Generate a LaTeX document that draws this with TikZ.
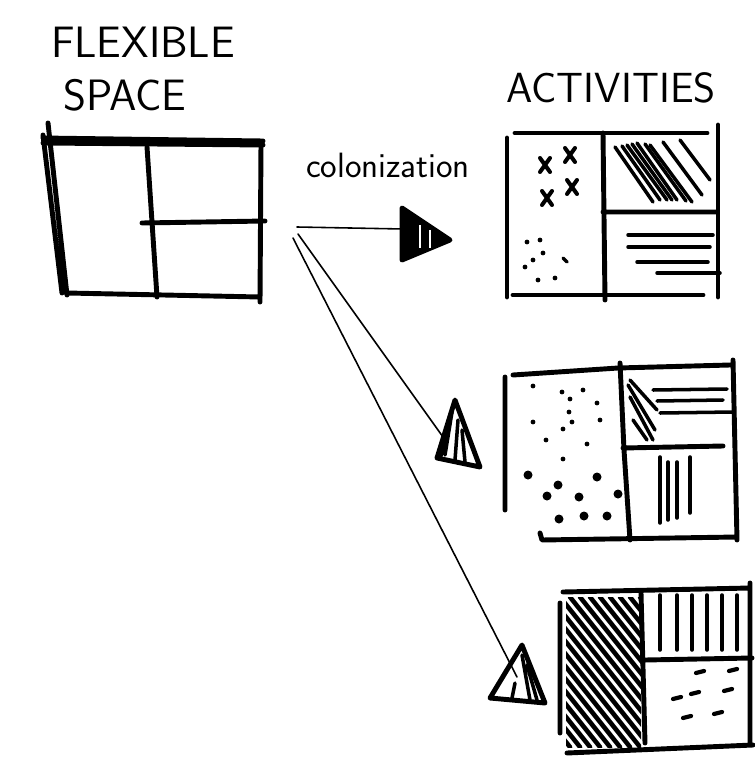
\documentclass[tikz,border=0pt]{standalone}
\begin{document}
\begin{tikzpicture}[x=0.02cm, y=-0.02cm, pen/.style={line width=2.8pt, line cap=round, line join=round}, hatch/.style={line width=2pt, line cap=round}, thinline/.style={line width=0.9pt, line cap=round}, word/.style={font=\sffamily, inner sep=0pt}]
    \useasboundingbox (0,0) rectangle (754,757);
    % titles
    \node[word, font=\sffamily\fontsize{25}{27}\selectfont] (flex) at (143,42) {FLEXIBLE};
    \node[word, font=\sffamily\fontsize{25}{27}\selectfont] (space) at (125,95) {SPACE};
    \node[word, font=\sffamily\fontsize{24}{26}\selectfont] (act) at (611,88) {ACTIVITIES};
    \node[word, font=\sffamily\fontsize{20}{22}\selectfont] (colon) at (388,165) {colonization};
    % flexible space
    \draw[pen] (43,138) -- (263,141) (43,143) -- (263,145);
    \draw[pen] (43,135) -- (62,293) (48,123) -- (67,295);
    \draw[pen] (261,143) -- (260,302) (67,293) -- (260,297);
    \draw[pen] (147,147) -- (157,297) (142,223) -- (265,221);
    % connectors
    \coordinate (s1) at (297,227);
    \coordinate (s2) at (298,234);
    \coordinate (s3) at (293,238);
    \coordinate (h1) at (403,229);
    \coordinate (h2) at (443,437);
    \coordinate (h3) at (517,677);
    \draw[thinline] (s1) -- (h1);
    \draw[thinline] (s2) -- (h2);
    \draw[thinline] (s3) -- (h3);
    % arrow heads
    \filldraw[pen] (402,208) -- (450,240) -- (402,260) -- cycle;
    \draw[white, line width=1pt] (420,225) -- (420,248) (430,230) -- (430,248);
    \draw[pen] (455,400) -- (480,467) -- (437,458) -- cycle;
    \draw[hatch] (452,412) -- (445,455) (458,420) -- (455,460) (462,430) -- (465,462) (448,430) -- (441,456);
    \draw[pen] (522,645) -- (545,703) -- (490,698) -- cycle;
    \draw[hatch] (522,655) -- (530,700) (527,665) -- (537,700) (515,683) -- (512,698);
    % activities 1
    \draw[pen] (515,133) -- (707,133) (507,138) -- (507,297) (718,125) -- (718,297) (513,295) -- (703,295);
    \draw[pen] (603,133) -- (605,300) (603,212) -- (717,212);
    \foreach \x/\y in {545/165,570/155,572/187,547/198}
        \draw[hatch, line width=2.3pt] (\x-5,\y-7) -- (\x+5,\y+7) (\x+5,\y-7) -- (\x-5,\y+7);
    \foreach \x/\y in {527/242,540/240,543/253,533/260,525/267,538/280,555/278}
        \fill (\x,\y) circle (2.4);
    \draw[hatch] (563,258) -- (567,262);
    \foreach \a/\b/\c/\d in {615/147/653/202,622/146/660/200,627/145/667/200,632/144/672/200,637/143/677/200,645/144/686/201,650/145/692/202,663/142/702/195,680/140/710/180}
        \draw[hatch] (\a,\b) -- (\c,\d);
    \foreach \a/\b/\y in {628/713/235,628/710/247,637/708/262,657/720/273}
        \draw[hatch] (\a,\y) -- (\b,\y);
    % activities 2
    \draw[pen] (513,375) -- (618,368) -- (730,365) (505,377) -- (505,510) (733,360) -- (737,540) (540,533) -- (542,540) -- (737,537);
    \draw[pen] (620,363) -- (624,450) -- (630,540) (623,448) -- (723,446);
    \foreach \a/\b/\y in {653/727/390,657/723/401,660/733/413}
        \draw[hatch] (\a,\y) -- (\b,\y-1);
    \foreach \a/\b/\c/\d in {630/380/657/410,628/385/655/430,630/397/653/440,633/420/647/440}
        \draw[hatch] (\a,\b) -- (\c,\d);
    \foreach \x/\t/\u in {660/457/523,668/462/520,677/462/518,690/457/513}
        \draw[hatch] (\x,\t) -- (\x,\u);
    \foreach \x/\y in {533/386,562/392,583/390,570/399,597/403,569/412,533/422,572/422,600/420,563/429,546/440,587/444,563/459}
        \fill (\x,\y) circle (2.4);
    \foreach \x/\y in {528/475,597/477,558/485,547/496,579/497,618/494,559/519,584/516,607/516}
        \fill (\x,\y) circle (4.5);
    % activities 3
    \draw[pen] (563,592) -- (750,588) (560,603) -- (560,733) (750,583) -- (750,743) (567,753) -- (753,745);
    \draw[pen] (641,593) -- (645,743) (645,660) -- (752,658);
    \begin{scope}
        \clip (566,597) rectangle (641,747);
        \foreach \k in {440,450,...,640}
            \draw[hatch, line width=2.6pt] (\k,597) -- (\k+120,747);
    \end{scope}
    \foreach \x in {660,677,692,707,722,737}
        \draw[hatch] (\x,595) -- (\x,650);
    \foreach \x/\y in {700/672,733/670,695/693,728/690,677/698,718/713,687/717}
        \draw[hatch, line width=2.4pt] (\x-4,\y+1) -- (\x+4,\y-1);
\end{tikzpicture}
\end{document}
